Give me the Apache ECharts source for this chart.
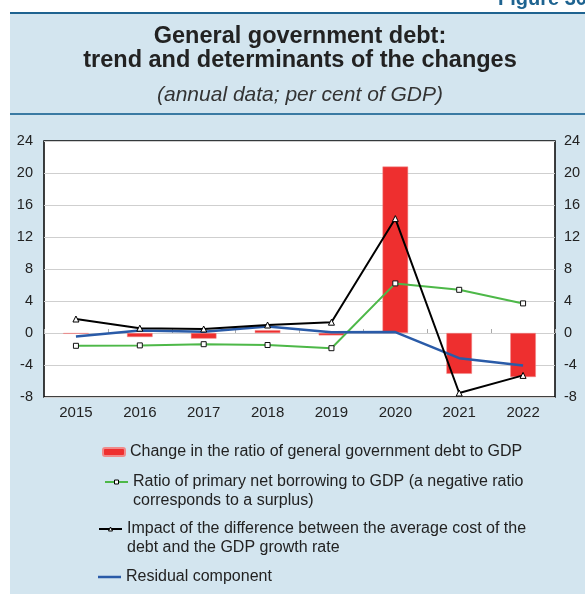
<!DOCTYPE html>
<html>
<head>
<meta charset="utf-8">
<script src="https://cdn.jsdelivr.net/npm/echarts@6/dist/echarts.min.js"></script>
<style>
  html, body { margin: 0; padding: 0; background: #fff; }
  #chart { width: 585px; height: 594px; }
</style>
</head>
<body>
<div id="chart"></div>
<script>
var years = ['2015', '2016', '2017', '2018', '2019', '2020', '2021', '2022']
// per cent of GDP
var debtChange = [-0.1, -0.5, -0.7, 0.35, -0.3, 20.8, -5.1, -5.5]
var primaryBorrowing = [-1.6, -1.55, -1.4, -1.5, -1.9, 6.2, 5.4, 3.7]
var costGrowthGap = [1.75, 0.6, 0.5, 1.0, 1.35, 14.3, -7.5, -5.3]
var residual = [-0.45, 0.3, 0.15, 0.8, 0.1, 0.12, -3.15, -4.05]

var names = [
  'Change in the ratio of general government debt to GDP',
  'Ratio of primary net borrowing to GDP (a negative ratio',
  'Impact of the difference between the average cost of the',
  'Residual component'
]

var font = 'Liberation Sans, Arial, sans-serif'
var legendText = { fontFamily: font, fontSize: 16, color: '#222' }
var markerStyle = { color: '#fff', borderColor: '#000', borderWidth: 1 }

var chart = echarts.init(document.getElementById('chart'))
chart.setOption({
  backgroundColor: '#fff',
  animation: false,
  title: {
    text: 'General government debt:\ntrend and determinants of the changes',
    subtext: '(annual data; per cent of GDP)',
    left: 300,
    top: 25,
    textAlign: 'center',
    padding: 0,
    itemGap: 12,
    textStyle: { fontFamily: font, fontSize: 23.5, fontWeight: 'bold', color: '#222', lineHeight: 24 },
    subtextStyle: { fontFamily: font, fontSize: 21, fontStyle: 'italic', color: '#333', lineHeight: 21 }
  },
  graphic: [
    { type: 'rect', z: -10, shape: { x: 10, y: 12, width: 580, height: 590 }, style: { fill: '#d3e5ef' } },
    { type: 'rect', z: -5, shape: { x: 10, y: 12, width: 580, height: 2 }, style: { fill: '#1e6390' } },
    { type: 'rect', z: -5, shape: { x: 10, y: 113, width: 580, height: 2 }, style: { fill: '#3a7aa3' } },
    { type: 'text', x: 498, y: 9, style: { text: 'Figure 30', fill: '#1e6390', font: 'bold 20px Liberation Sans, Arial, sans-serif', verticalAlign: 'bottom' } },
    { type: 'text', x: 133, y: 501, style: { text: 'corresponds to a surplus)', fill: '#222', font: '16px Liberation Sans, Arial, sans-serif', verticalAlign: 'middle' } },
    { type: 'text', x: 127, y: 548, style: { text: 'debt and the GDP growth rate', fill: '#222', font: '16px Liberation Sans, Arial, sans-serif', verticalAlign: 'middle' } }
  ],
  legend: [
    { data: [names[0]], left: 102, top: 444, padding: 0, itemWidth: 22, itemHeight: 8, textStyle: legendText },
    { data: [names[1]], left: 104, top: 474, padding: 0, itemWidth: 23, itemHeight: 5, itemStyle: markerStyle, textStyle: legendText },
    { data: [names[2]], left: 98, top: 521, padding: 0, itemWidth: 23, itemHeight: 5, itemStyle: markerStyle, textStyle: legendText },
    { data: [{ name: names[3], icon: 'rect' }], left: 98, top: 569, padding: 0, itemWidth: 23, itemHeight: 2.5, textStyle: legendText }
  ],
  grid: {
    left: 44, right: 30, top: 141, bottom: 197,
    show: true, backgroundColor: '#fff', borderColor: '#000', borderWidth: 1.5
  },
  xAxis: {
    type: 'category',
    data: years,
    axisLine: { show: false },
    axisTick: { show: true, inside: true, length: 4, lineStyle: { color: '#aaa' } },
    axisLabel: { fontFamily: font, fontSize: 15, color: '#222', margin: 8 }
  },
  yAxis: [
    {
      type: 'value', min: -8, max: 24, interval: 4,
      axisLine: { show: false }, axisTick: { show: false },
      splitLine: { lineStyle: { color: '#cfcfcf' } },
      axisLabel: { fontFamily: font, fontSize: 14.5, color: '#222', margin: 11 }
    },
    {
      type: 'value', min: -8, max: 24, interval: 4, position: 'right',
      axisLine: { show: false }, axisTick: { show: false },
      splitLine: { show: false },
      axisLabel: { fontFamily: font, fontSize: 14.5, color: '#222', margin: 9 }
    }
  ],
  series: [
    {
      name: names[0], type: 'bar', data: debtChange, barWidth: '40%',
      itemStyle: { color: '#ee2f2f', borderColor: '#f08a8a', borderWidth: 0.5 }
    },
    {
      name: names[1], type: 'line', data: primaryBorrowing,
      symbol: 'rect', symbolSize: 5, showAllSymbol: true,
      lineStyle: { color: '#4db848', width: 2 },
      itemStyle: { color: '#fff', borderColor: '#111', borderWidth: 1 }
    },
    {
      name: names[2], type: 'line', data: costGrowthGap, z: 4,
      symbol: 'triangle', symbolSize: 6, showAllSymbol: true,
      lineStyle: { color: '#000', width: 2 },
      itemStyle: { color: '#fff', borderColor: '#000', borderWidth: 1 }
    },
    {
      name: names[3], type: 'line', data: residual, symbol: 'none',
      lineStyle: { color: '#2a5ba8', width: 2.5 },
      itemStyle: { color: '#2a5ba8' }
    }
  ]
})
</script>
</body>
</html>
